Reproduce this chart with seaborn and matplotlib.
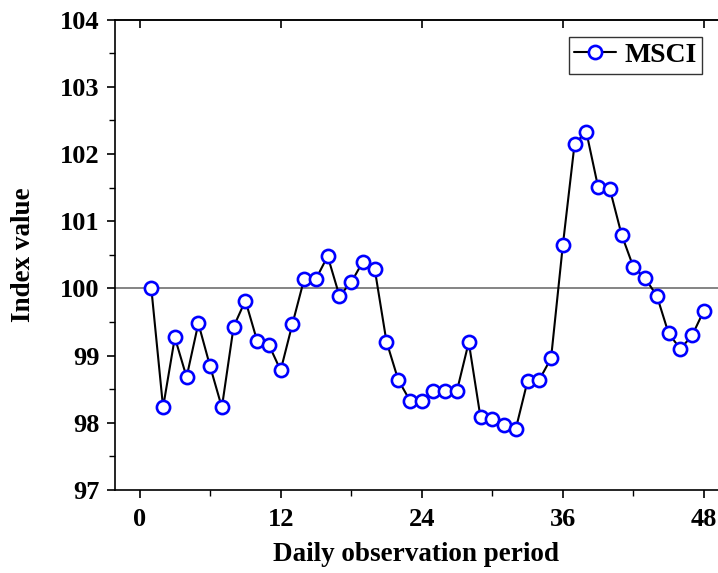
import matplotlib
matplotlib.use("Agg")
import matplotlib.pyplot as plt
import seaborn as sns
import pandas as pd
from matplotlib.ticker import MultipleLocator

periods = list(range(1, 49))
msci = [100.00, 98.23, 99.27, 98.68, 99.48, 98.84, 98.23, 99.43, 99.82, 99.22,
        99.16, 98.78, 99.47, 100.14, 100.14, 100.48, 99.89, 100.09, 100.40, 100.29,
        99.21, 98.64, 98.33, 98.33, 98.48, 98.48, 98.48, 99.20, 98.08, 98.05,
        97.96, 97.91, 98.62, 98.64, 98.96, 100.64, 102.15, 102.33, 101.51, 101.48,
        100.80, 100.32, 100.15, 99.89, 99.33, 99.10, 99.30, 99.67]
series_name = "MSCI"
x_ticks = [0, 12, 24, 36, 48]
y_ticks = [97, 98, 99, 100, 101, 102, 103, 104]
baseline = 100

sns.set_style("ticks")
plt.rcParams['font.family'] = ['Liberation Serif', 'DejaVu Serif']
plt.rcParams['font.weight'] = 'bold'
plt.rcParams['text.color'] = 'black'
plt.rcParams['axes.labelcolor'] = 'black'
plt.rcParams['xtick.color'] = 'black'
plt.rcParams['ytick.color'] = 'black'

df = pd.DataFrame({"period": periods, "value": msci})

fig = plt.figure(figsize=(7.18, 5.73), dpi=100)
ax = fig.add_axes([0.160, 0.1449, 0.840, 0.8207])

ax.axhline(baseline, color='#707070', lw=1.2, zorder=1)
sns.lineplot(data=df, x="period", y="value", ax=ax, color='black', lw=1.5,
             marker='o', markersize=9.5, markerfacecolor='white',
             markeredgecolor='blue', markeredgewidth=1.9, label=series_name,
             zorder=3)

ax.set_xlim(-2.1, 49.2)
ax.set_ylim(97, 104)
ax.set_xticks(x_ticks)
ax.set_yticks(y_ticks)
ax.xaxis.set_minor_locator(MultipleLocator(6))
ax.yaxis.set_minor_locator(MultipleLocator(0.5))

ax.tick_params(axis='both', which='major', direction='out', length=6, width=1.2,
               labelsize=19, colors='black')
ax.tick_params(axis='x', which='major', pad=7)
ax.tick_params(axis='y', which='major', pad=5)
ax.tick_params(axis='both', which='minor', direction='out', length=4, width=1.0)
for lab in ax.get_xticklabels() + ax.get_yticklabels():
    lab.set_fontweight('bold')

sec = ax.secondary_xaxis('top')
sec.set_xticks(x_ticks)
sec.tick_params(direction='in', length=6, width=1.2, labeltop=False)
sec.spines['top'].set_linewidth(1.2)

for s in ['left', 'bottom', 'top']:
    ax.spines[s].set_visible(True)
    ax.spines[s].set_linewidth(1.2)
    ax.spines[s].set_color('black')
ax.spines['right'].set_visible(False)

ax.set_xlabel("Daily observation period", fontsize=19.5, fontweight='bold', labelpad=8)
ax.set_ylabel("Index value", fontsize=19.5, fontweight='bold', labelpad=17)

leg = ax.legend(loc='upper right', bbox_to_anchor=(0.983, 0.975), frameon=True,
                fancybox=False, edgecolor='black',
                prop={'weight': 'bold', 'size': 20}, handlelength=1.5,
                handletextpad=0.3, borderpad=0.2, borderaxespad=0.2)
leg.get_frame().set_linewidth(1.0)

fig.savefig("out.png", dpi=100)
